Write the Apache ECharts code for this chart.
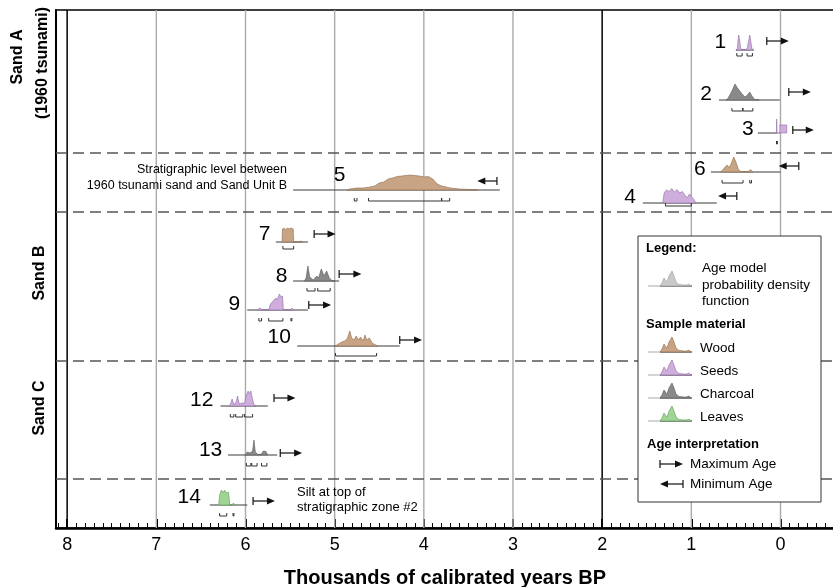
<!DOCTYPE html>
<html>
<head>
<meta charset="utf-8">
<script src="https://cdn.jsdelivr.net/npm/echarts@6/dist/echarts.min.js"></script>
<style>
body { margin: 0; background: #fff; }
#chart { width: 833px; height: 587px; }
</style>
</head>
<body>
<div id="chart"></div>
<script>
// samples, top to bottom in the section
var ids = ['1', '2', '3', '4', '5', '6', '7', '8', '9', '10', '12', '13', '14'];
var material = ['seeds', 'charcoal', 'seeds', 'seeds', 'wood', 'wood', 'wood', 'charcoal', 'seeds', 'wood', 'seeds', 'charcoal', 'leaves'];
// baseline level of each sample (depth rows)
var level = [3.8, 8.8, 12.1, 19.1, 17.8, 16.0, 23.0, 26.9, 29.8, 33.4, 39.4, 44.3, 49.3];
// age range covered by each age model (ka)
var span = [[0.50, 0.30], [0.69, 0.008], [0.254, 0.04], [1.544, 0.714], [5.466, 3.147], [0.78, 0.0],
    [5.66, 5.30], [5.466, 4.95], [5.98, 5.30], [5.42, 4.27], [6.28, 5.75], [6.195, 5.645], [6.40, 5.98]];

// probability density, [age ka, density]
var pdf1 = [[0.50, 0], [0.485, 0.1], [0.478, 0.8], [0.468, 1.5], [0.457, 0.9], [0.447, 0.15], [0.43, 0.04], [0.39, 0.04], [0.372, 0.2], [0.358, 0.9], [0.344, 1.5], [0.332, 0.8], [0.32, 0.1], [0.30, 0]];
var pdf2 = [[0.61, 0], [0.59, 0.15], [0.55, 0.8], [0.51, 1.6], [0.49, 1.3], [0.44, 0.7], [0.40, 0.3], [0.37, 0.5], [0.345, 0.8], [0.32, 0.4], [0.29, 0.05], [0.24, 0]];
var pdf3 = [[0.046, 0], [0.043, 1.4], [0.039, 0], [0.008, 0], [0.008, 0.8], [-0.07, 0.8], [-0.07, 0]];
var pdf4 = [[1.32, 0], [1.305, 1.0], [1.28, 1.3], [1.25, 1.15], [1.22, 1.45], [1.19, 1.1], [1.16, 1.35], [1.13, 1.0], [1.10, 1.15], [1.07, 0.75], [1.045, 0.55], [1.02, 0.9], [0.995, 0.6], [0.97, 0.35], [0.95, 0]];
var pdf5 = [[4.86, 0], [4.83, 0.1], [4.75, 0.2], [4.68, 0.2], [4.60, 0.3], [4.55, 0.4], [4.50, 0.7], [4.45, 0.8], [4.40, 1.1], [4.35, 1.2], [4.30, 1.35], [4.25, 1.4], [4.20, 1.45], [4.15, 1.5], [4.10, 1.45], [4.05, 1.4], [4.00, 1.3], [3.95, 1.35], [3.90, 1.1], [3.85, 0.6], [3.80, 0.4], [3.75, 0.3], [3.70, 0.2], [3.60, 0.1], [3.50, 0.05], [3.40, 0]];
var pdf6 = [[0.67, 0], [0.64, 0.3], [0.60, 0.7], [0.575, 0.45], [0.55, 0.9], [0.525, 1.5], [0.50, 1.0], [0.47, 0.2], [0.44, 0.05], [0.36, 0.05], [0.335, 0.25], [0.31, 0]];
var pdf7 = [[5.59, 0], [5.585, 1.3], [5.57, 1.4], [5.55, 1.2], [5.53, 1.4], [5.51, 1.3], [5.49, 1.4], [5.465, 1.3], [5.46, 0], [5.40, 0], [5.38, 0.1], [5.36, 0]];
var pdf8 = [[5.34, 0], [5.32, 0.3], [5.30, 1.5], [5.28, 0.4], [5.24, 0.1], [5.20, 0.5], [5.18, 0.3], [5.15, 1.2], [5.12, 0.5], [5.09, 1.0], [5.06, 0.3], [5.03, 0.05], [5.00, 0]];
var pdf9 = [[5.87, 0], [5.84, 0.2], [5.81, 0], [5.74, 0], [5.72, 0.6], [5.69, 0.9], [5.66, 1.2], [5.645, 1.0], [5.62, 1.6], [5.60, 1.3], [5.585, 1.4], [5.575, 0], [5.50, 0], [5.48, 0.2], [5.46, 0]];
var pdf10 = [[4.99, 0], [4.96, 0.2], [4.92, 0.4], [4.89, 0.5], [4.86, 0.7], [4.83, 1.5], [4.81, 0.8], [4.78, 0.6], [4.76, 1.0], [4.73, 0.6], [4.71, 0.9], [4.68, 0.5], [4.66, 1.1], [4.64, 0.6], [4.61, 0.8], [4.58, 0.3], [4.55, 0.15], [4.52, 0]];
var pdf12 = [[6.18, 0], [6.16, 0.4], [6.15, 0.7], [6.13, 0.1], [6.10, 0.5], [6.09, 1.0], [6.07, 0.2], [6.04, 0.3], [6.01, 0.3], [5.99, 1.1], [5.97, 1.5], [5.955, 1.2], [5.94, 1.5], [5.92, 0.6], [5.90, 0.05], [5.88, 0]];
var pdf13 = [[6.0, 0], [5.98, 0.3], [5.95, 0.2], [5.92, 0.4], [5.905, 1.5], [5.89, 0.3], [5.86, 0.05], [5.82, 0.1], [5.80, 0.4], [5.77, 0.35], [5.75, 0]];
var pdf14 = [[6.30, 0], [6.29, 1.0], [6.27, 1.5], [6.25, 1.2], [6.235, 1.5], [6.21, 1.2], [6.19, 1.3], [6.175, 0], [6.15, 0], [6.135, 0.2], [6.12, 0]];
var pdfs = [pdf1, pdf2, pdf3, pdf4, pdf5, pdf6, pdf7, pdf8, pdf9, pdf10, pdf12, pdf13, pdf14];

// calibrated ranges drawn as brackets: [from, to, level]
var brackets = [
    [0.49, 0.43, 4.4], [0.375, 0.315, 4.4],
    [0.545, 0.425, 9.9], [0.42, 0.31, 9.9],
    [0.045, 0.035, 13.2],
    [1.29, 1.0, 19.4],
    [4.78, 4.75, 18.9], [4.62, 3.80, 18.9], [3.80, 3.71, 18.9],
    [0.655, 0.42, 17.1], [0.345, 0.325, 17.1],
    [5.58, 5.46, 23.7],
    [5.31, 5.22, 27.9], [5.19, 5.05, 27.9],
    [5.85, 5.82, 30.9], [5.74, 5.58, 30.9], [5.49, 5.48, 30.9],
    [4.99, 4.53, 34.4],
    [6.17, 6.13, 40.5], [6.11, 6.03, 40.5], [6.01, 5.92, 40.5],
    [5.99, 5.94, 45.4], [5.93, 5.87, 45.4], [5.82, 5.76, 45.4],
    [6.29, 6.21, 50.4], [6.14, 6.13, 50.4]
];

// age interpretation arrows: [tail, head, level]; head toward younger = maximum age
var arrows = [
    [0.154, -0.093, 2.9], [-0.093, -0.34, 8.0], [-0.138, -0.373, 11.8],
    [0.49, 0.70, 18.4], [3.18, 3.40, 16.9], [-0.205, 0.02, 15.4],
    [5.23, 4.99, 22.2], [4.95, 4.70, 26.2], [5.29, 5.04, 29.3], [4.27, 4.02, 32.8],
    [5.68, 5.44, 38.6], [5.61, 5.365, 44.1], [5.915, 5.67, 48.9]
];

var labelAge = [0.61, 0.77, 0.30, 1.62, 4.88, 0.84, 5.72, 5.53, 6.06, 5.49, 6.36, 6.26, 6.50];
var labelLevel = [3.0, 8.2, 11.7, 18.5, 16.3, 15.7, 22.2, 26.4, 29.2, 32.5, 38.8, 43.8, 48.5];

var yearTicks = [8, 7, 6, 5, 4, 3, 2, 1, 0];
var darkYears = [8, 2];
var sandBreaks = [14.1, 20.0, 34.9, 46.7];

var FONT = '"Liberation Sans", Arial, sans-serif';
var palette = {
    wood: ['#c8a384', '#8c6a4c'],
    seeds: ['#cfaedd', '#8f6aa3'],
    charcoal: ['#8a8a8a', '#555555'],
    leaves: ['#9fd495', '#5f9a55']
};
var X_MIN = -0.6, X_MAX = 8.125, Y_MIN = -0.2, Y_MAX = 51.6;

function drawPdf(params, api) {
    var i = api.value(2);
    var lv = level[i];
    var pts = pdfs[i].map(function (p) { return api.coord([p[0], lv - p[1]]); });
    var a = api.coord([span[i][0], lv]);
    var b = api.coord([span[i][1], lv]);
    var c = palette[material[i]];
    return {
        type: 'group',
        children: [
            { type: 'line', shape: { x1: a[0], y1: a[1], x2: b[0], y2: b[1] }, style: { stroke: '#3a3a3a', lineWidth: 1 } },
            { type: 'polygon', shape: { points: pts }, style: { fill: c[0], stroke: c[1], lineWidth: 0.6 } }
        ]
    };
}

function drawBracket(params, api) {
    var a = api.coord([api.value(0), api.value(2)]);
    var b = api.coord([api.value(1), api.value(2)]);
    return {
        type: 'polyline',
        shape: { points: [[a[0], a[1] - 3], [a[0], a[1]], [b[0], b[1]], [b[0], b[1] - 3]] },
        style: { stroke: '#333', lineWidth: 1, fill: null }
    };
}

function drawArrow(params, api) {
    var t = api.coord([api.value(0), api.value(2)]);
    var h = api.coord([api.value(1), api.value(2)]);
    var d = h[0] > t[0] ? 1 : -1;
    return {
        type: 'group',
        children: [
            { type: 'line', shape: { x1: t[0], y1: t[1], x2: h[0] - d * 5, y2: h[1] }, style: { stroke: '#111', lineWidth: 1.2 } },
            { type: 'line', shape: { x1: t[0], y1: t[1] - 4, x2: t[0], y2: t[1] + 4 }, style: { stroke: '#111', lineWidth: 1.2 } },
            { type: 'polygon', shape: { points: [[h[0], h[1]], [h[0] - d * 8, h[1] - 3.5], [h[0] - d * 8, h[1] + 3.5]] }, style: { fill: '#111' } }
        ]
    };
}

function drawLabel(params, api) {
    var p = api.coord([api.value(0), api.value(1)]);
    return {
        type: 'text', x: p[0], y: p[1],
        style: { text: ids[api.value(2)], font: '21px ' + FONT, fill: '#000', align: 'right', verticalAlign: 'middle' }
    };
}

function drawYearLine(params, api) {
    var v = api.value(0);
    var a = api.coord([v, Y_MIN]);
    var b = api.coord([v, Y_MAX]);
    var dark = darkYears.indexOf(v) >= 0;
    return {
        type: 'line', shape: { x1: a[0], y1: a[1], x2: b[0], y2: b[1] },
        style: { stroke: dark ? '#000' : '#aaaaaa', lineWidth: dark ? 1.5 : 1.4 }
    };
}

function drawBreak(params, api) {
    var v = api.value(0);
    var a = api.coord([X_MAX, v]);
    var b = api.coord([X_MIN, v]);
    return {
        type: 'line', shape: { x1: a[0], y1: a[1], x2: b[0], y2: b[1] },
        style: { stroke: '#555', lineWidth: 1.5, lineDash: [11, 6] }
    };
}

function glyph(x, y, fill, edge) {
    var pts = [[x + 12, y], [x + 14, y - 3], [x + 16, y - 8], [x + 18, y - 5], [x + 19, y - 4], [x + 21, y - 10], [x + 24, y - 15],
        [x + 26, y - 10], [x + 28, y - 4], [x + 31, y - 1.5], [x + 38, y - 0.8], [x + 41, y - 2], [x + 43, y]];
    return [
        { type: 'line', z: 101, shape: { x1: x, y1: y, x2: x + 12, y2: y }, style: { stroke: '#aaa', lineWidth: 1 } },
        { type: 'line', z: 101, shape: { x1: x + 12, y1: y, x2: x + 44, y2: y }, style: { stroke: '#222', lineWidth: 1 } },
        { type: 'polygon', z: 102, shape: { points: pts }, style: { fill: fill, stroke: edge, lineWidth: 0.6 } }
    ];
}

function text(x, y, str, font, align, rot) {
    return {
        type: 'text', z: 101, x: x, y: y, rotation: rot || 0,
        style: { text: str, font: font, fill: '#000', align: align || 'left', verticalAlign: 'middle' }
    };
}

function legendArrow(x1, x2, y) {
    var d = x2 > x1 ? 1 : -1;
    return [
        { type: 'line', z: 101, shape: { x1: x1, y1: y, x2: x2 - d * 5, y2: y }, style: { stroke: '#111', lineWidth: 1.2 } },
        { type: 'line', z: 101, shape: { x1: x1, y1: y - 4, x2: x1, y2: y + 4 }, style: { stroke: '#111', lineWidth: 1.2 } },
        { type: 'polygon', z: 101, shape: { points: [[x2, y], [x2 - d * 8, y - 3.5], [x2 - d * 8, y + 3.5]] }, style: { fill: '#111' } }
    ];
}

var bold16 = 'bold 16px ' + FONT;
var small = '13.5px ' + FONT;
var smallBold = 'bold 13px ' + FONT;

var graphics = [
    text(18, 57, 'Sand A', bold16, 'center', Math.PI / 2),
    text(43, 63, '(1960 tsunami)', bold16, 'center', Math.PI / 2),
    text(40, 273, 'Sand B', bold16, 'center', Math.PI / 2),
    text(40, 408, 'Sand C', bold16, 'center', Math.PI / 2),
    text(287, 170, 'Stratigraphic level between', '12.5px ' + FONT, 'right'),
    text(287, 186, '1960 tsunami sand and Sand Unit B', '12.5px ' + FONT, 'right'),
    text(297, 492, 'Silt at top of', '13px ' + FONT, 'left'),
    text(297, 507, 'stratigraphic zone #2', '13px ' + FONT, 'left'),
    { type: 'rect', z: 100, shape: { x: 638, y: 236, width: 183, height: 266 }, style: { fill: '#fff', stroke: '#333', lineWidth: 1 } },
    text(646, 248, 'Legend:', smallBold),
    text(702, 268, 'Age model', small),
    text(702, 285, 'probability density', small),
    text(702, 301, 'function', small),
    text(646, 324, 'Sample material', smallBold),
    text(700, 348, 'Wood', small),
    text(700, 371, 'Seeds', small),
    text(700, 394, 'Charcoal', small),
    text(700, 417, 'Leaves', small),
    text(647, 444, 'Age interpretation', smallBold),
    text(690, 464, 'Maximum Age', small),
    text(690, 484, 'Minimum Age', small)
].concat(glyph(648, 286, '#c9c9c9', '#999'))
 .concat(glyph(648, 352, palette.wood[0], palette.wood[1]))
 .concat(glyph(648, 375, palette.seeds[0], palette.seeds[1]))
 .concat(glyph(648, 398, palette.charcoal[0], palette.charcoal[1]))
 .concat(glyph(648, 421, palette.leaves[0], palette.leaves[1]))
 .concat(legendArrow(660, 683, 464))
 .concat(legendArrow(683, 660, 484));

var myChart = echarts.init(document.getElementById('chart'));
var option = {
    animation: false,
    backgroundColor: '#fff',
    grid: {
        left: 56, right: -1, top: 10, bottom: 59,
        outerBoundsMode: 'none',
        show: true, borderColor: '#000', borderWidth: 1.5
    },
    xAxis: [{
        // minor ticks every 100 years
        type: 'value', inverse: true, min: X_MIN, max: X_MAX, interval: 0.1,
        position: 'bottom',
        axisLine: { show: false, onZero: false },
        axisTick: { show: true, inside: true, length: 5, lineStyle: { color: '#000', width: 1 } },
        axisLabel: { show: false },
        splitLine: { show: false }
    }, {
        type: 'value', inverse: true, min: X_MIN, max: X_MAX,
        position: 'bottom',
        axisLine: { show: true, onZero: false, lineStyle: { color: '#000', width: 2.5 } },
        axisTick: { show: true, inside: true, length: 9, customValues: yearTicks, lineStyle: { color: '#000', width: 2 } },
        axisLabel: { show: true, customValues: yearTicks, margin: 8, color: '#000', fontSize: 18, fontFamily: FONT },
        splitLine: { show: false },
        name: 'Thousands of calibrated years BP',
        nameLocation: 'middle',
        nameGap: 40,
        nameTextStyle: { color: '#000', fontSize: 20, fontWeight: 'bold', fontFamily: FONT }
    }],
    yAxis: {
        type: 'value', inverse: true, min: Y_MIN, max: Y_MAX,
        axisLine: { show: true, onZero: false, lineStyle: { color: '#000', width: 2 } },
        axisTick: { show: false },
        axisLabel: { show: false },
        splitLine: { show: false }
    },
    series: [
        { type: 'custom', renderItem: drawYearLine, data: yearTicks.map(function (v) { return [v]; }), silent: true },
        { type: 'custom', renderItem: drawBreak, data: sandBreaks.map(function (v) { return [v]; }), silent: true },
        { type: 'custom', renderItem: drawPdf, data: ids.map(function (id, i) { return [span[i][0], level[i], i]; }) },
        { type: 'custom', renderItem: drawBracket, data: brackets },
        { type: 'custom', renderItem: drawArrow, data: arrows },
        { type: 'custom', renderItem: drawLabel, data: ids.map(function (id, i) { return [labelAge[i], labelLevel[i], i]; }) }
    ],
    graphic: { elements: graphics }
};
myChart.setOption(option);
</script>
</body>
</html>
